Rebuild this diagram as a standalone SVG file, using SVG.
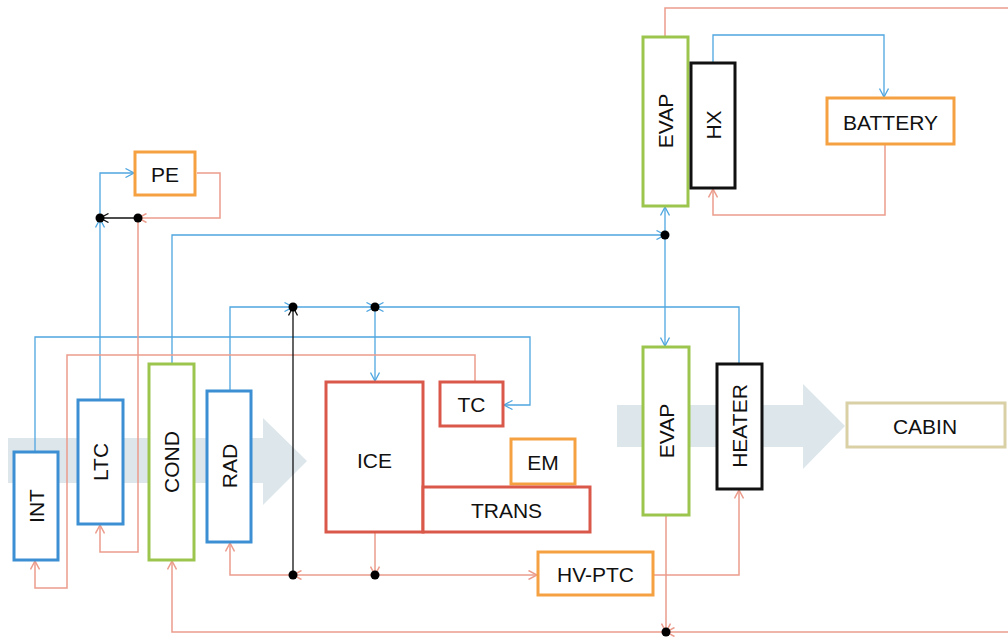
<svg xmlns="http://www.w3.org/2000/svg" width="1008" height="641" viewBox="0 0 1008 641">
<defs>
<style>
.bg{fill:#dce6eb}
.box{fill:#fff;stroke-width:3}
.b{stroke:#3d8fd4}
.r{stroke:#d9584a}
.o{stroke:#f5a142}
.g{stroke:#9cc54e}
.k{stroke:#111}
.c{stroke:#d9d0a6}
.t{font-family:"Liberation Sans",Arial,sans-serif;font-size:21px;fill:#111;text-anchor:middle;dominant-baseline:central}
.lb{fill:none;stroke:#4fa6e0;stroke-width:1.3}
.lr{fill:none;stroke:#eb9c8c;stroke-width:1.5}
.lk{fill:none;stroke:#111;stroke-width:1.3}
.dot{fill:#000}
</style>
<marker id="ab" viewBox="0 0 10 10" refX="9.5" refY="5" markerWidth="10" markerHeight="10" markerUnits="userSpaceOnUse" orient="auto"><path d="M1,0.5 L9.5,5 L1,9.5" fill="none" stroke="#4fa6e0" stroke-width="1.3"/></marker>
<marker id="ar" viewBox="0 0 10 10" refX="9.5" refY="5" markerWidth="10" markerHeight="10" markerUnits="userSpaceOnUse" orient="auto"><path d="M1,0.5 L9.5,5 L1,9.5" fill="none" stroke="#eb9c8c" stroke-width="1.5"/></marker>
<marker id="ak" viewBox="0 0 10 10" refX="9.5" refY="5" markerWidth="10" markerHeight="10" markerUnits="userSpaceOnUse" orient="auto"><path d="M1,0.5 L9.5,5 L1,9.5" fill="none" stroke="#111" stroke-width="1.3"/></marker>
</defs>
<rect width="1008" height="641" fill="#fff"/>
<g id="airflow">
<polygon class="bg" points="8,438 263,438 263,418 307,461 263,505 263,483 8,483"/>
<polygon class="bg" points="617,405 803,405 803,384 845,426 803,469 803,447 617,447"/>
</g>
<g id="connectors">
<polyline class="lb" points="35,452 35,337 530,337 530,405 504,405" marker-end="url(#ab)"/>
<polyline class="lb" points="100,400 100,219" marker-end="url(#ab)"/>
<polyline class="lb" points="100,218 100,173 134,173" marker-end="url(#ab)"/>
<polyline class="lb" points="172,364 172,235 665,235" marker-end="url(#ab)"/>
<polyline class="lb" points="665,235 665,207" marker-end="url(#ab)"/>
<polyline class="lb" points="665,235 665,346" marker-end="url(#ab)"/>
<polyline class="lb" points="230,391 230,307 293,307" marker-end="url(#ab)"/>
<polyline class="lb" points="293,307 375,307" marker-end="url(#ab)"/>
<polyline class="lb" points="375,307 375,381" marker-end="url(#ab)"/>
<polyline class="lb" points="739,363 739,307 375,307" marker-end="url(#ab)"/>
<polyline class="lb" points="713,63 713,35 884,35 884,97" marker-end="url(#ab)"/>
<polyline class="lr" points="197,173 220,173 220,218 138,218" marker-end="url(#ar)"/>
<polyline class="lk" points="138,218 100,218" marker-end="url(#ak)"/>
<polyline class="lr" points="138,218 138,552 100,552 100,525" marker-end="url(#ar)"/>
<polyline class="lr" points="475,382 475,355 67,355 67,588 35,588 35,561" marker-end="url(#ar)"/>
<polyline class="lr" points="375,532 375,575" marker-end="url(#ar)"/>
<polyline class="lr" points="375,575 293,575" marker-end="url(#ar)"/>
<polyline class="lr" points="375,575 537,575" marker-end="url(#ar)"/>
<polyline class="lk" points="293,575 293,307" marker-end="url(#ak)"/>
<polyline class="lr" points="293,575 230,575 230,543" marker-end="url(#ar)"/>
<polyline class="lr" points="653,575 739,575 739,490" marker-end="url(#ar)"/>
<polyline class="lr" points="666,515 666,632" marker-end="url(#ar)"/>
<polyline class="lr" points="1008,632 666,632" marker-end="url(#ar)"/>
<polyline class="lr" points="666,632 172,632 172,561" marker-end="url(#ar)"/>
<polyline class="lr" points="665,37 665,8 1008,8"/>
<polyline class="lr" points="885,144 885,215 713,215 713,189" marker-end="url(#ar)"/>
<circle class="dot" cx="100" cy="218" r="4.5"/>
<circle class="dot" cx="138" cy="218" r="4.5"/>
<circle class="dot" cx="665" cy="235" r="4.5"/>
<circle class="dot" cx="293" cy="307" r="4.5"/>
<circle class="dot" cx="375" cy="307" r="4.5"/>
<circle class="dot" cx="293" cy="575" r="4.5"/>
<circle class="dot" cx="375" cy="575" r="4.5"/>
<circle class="dot" cx="666" cy="632" r="4.5"/>
</g>
<g id="pe"><rect class="box o" x="135" y="152" width="60" height="43"/><text class="t" x="165" y="174">PE</text></g>
<g id="int"><rect class="box b" x="14" y="452" width="44" height="108"/><text class="t" transform="translate(36,506) rotate(-90)">INT</text></g>
<g id="ltc"><rect class="box b" x="78" y="400" width="45" height="124"/><text class="t" transform="translate(100.5,462) rotate(-90)">LTC</text></g>
<g id="cond"><rect class="box g" x="149" y="364" width="45" height="196"/><text class="t" transform="translate(171.5,462) rotate(-90)">COND</text></g>
<g id="rad"><rect class="box b" x="207" y="391" width="44" height="151"/><text class="t" transform="translate(229,466) rotate(-90)">RAD</text></g>
<g id="ice"><rect class="box r" x="326" y="382" width="97" height="150"/><text class="t" x="374.5" y="460">ICE</text></g>
<g id="tc"><rect class="box r" x="440" y="382" width="63" height="44"/><text class="t" x="471.5" y="404">TC</text></g>
<g id="em"><rect class="box o" x="511" y="439" width="64" height="45"/><text class="t" x="543" y="462">EM</text></g>
<g id="trans"><rect class="box r" x="423" y="487" width="167" height="45"/><text class="t" x="506.5" y="510">TRANS</text></g>
<g id="hvptc"><rect class="box o" x="538" y="552" width="115" height="43"/><text class="t" x="595.5" y="574">HV-PTC</text></g>
<g id="evap-top"><rect class="box g" x="643" y="37" width="45" height="169"/><text class="t" transform="translate(665.5,121) rotate(-90)">EVAP</text></g>
<g id="hx"><rect class="box k" x="691" y="63" width="44" height="125"/><text class="t" transform="translate(713,125) rotate(-90)">HX</text></g>
<g id="battery"><rect class="box o" x="827" y="98" width="127" height="46"/><text class="t" x="890.5" y="122">BATTERY</text></g>
<g id="evap-bottom"><rect class="box g" x="643" y="347" width="46" height="168"/><text class="t" transform="translate(666,431) rotate(-90)">EVAP</text></g>
<g id="heater"><rect class="box k" x="717" y="364" width="45" height="125"/><text class="t" transform="translate(739.5,426) rotate(-90)">HEATER</text></g>
<g id="cabin"><rect class="box c" x="847" y="403" width="158" height="44"/><text class="t" x="925" y="426">CABIN</text></g>
</svg>
